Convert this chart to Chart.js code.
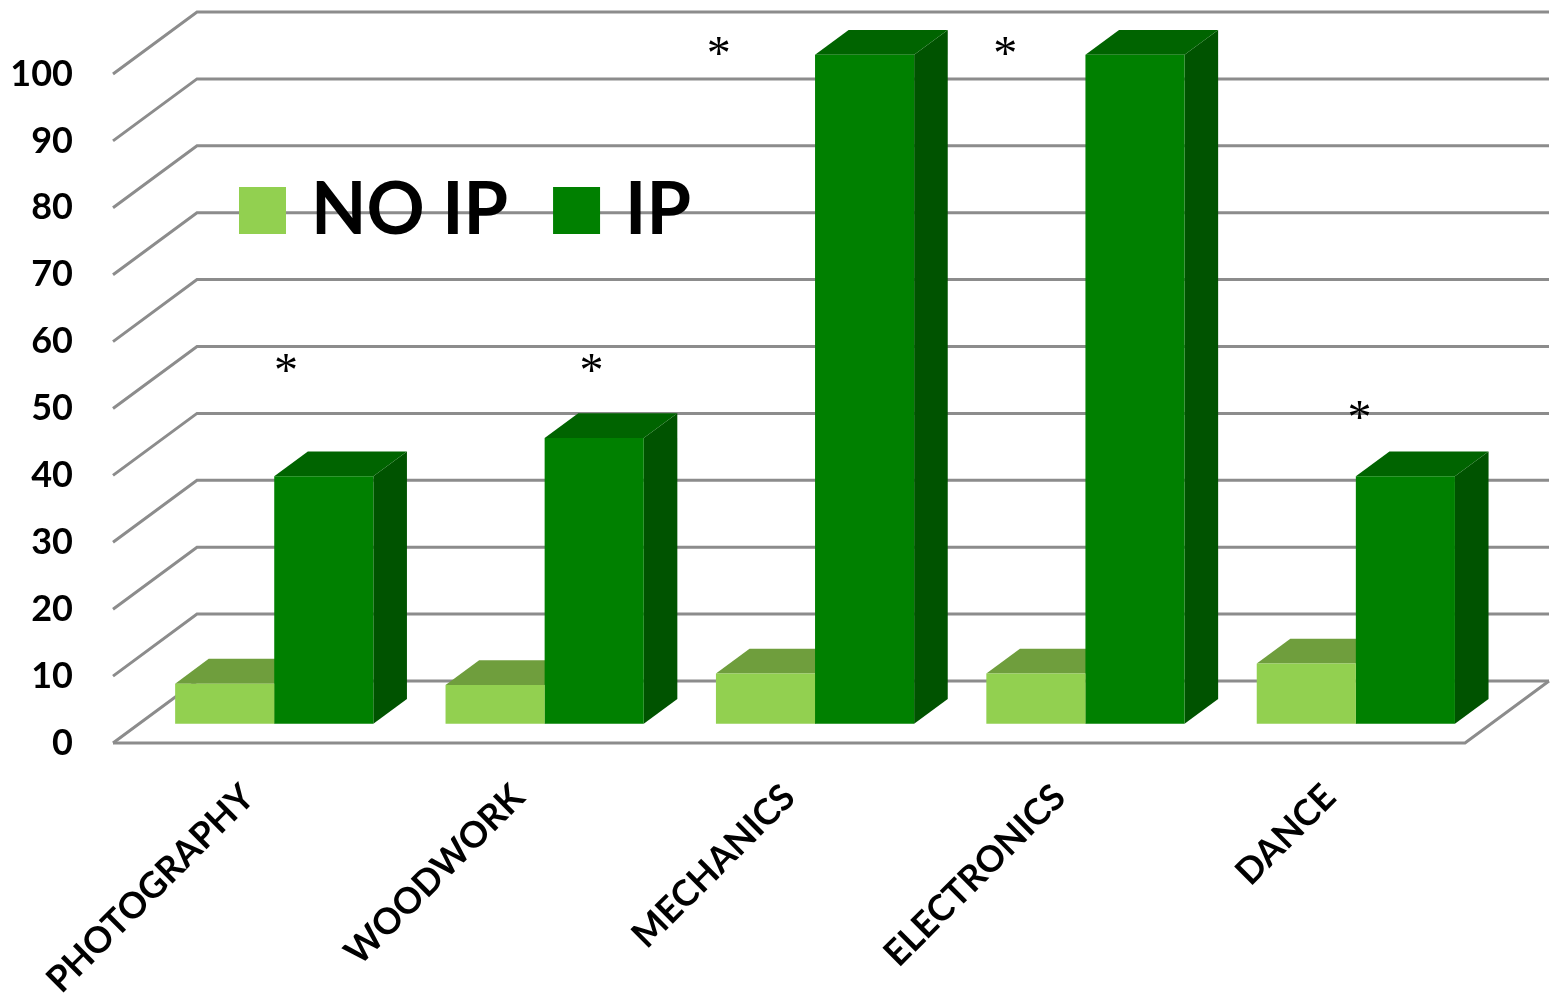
<!DOCTYPE html>
<html>
<head>
<meta charset="utf-8">
<script src="https://cdn.jsdelivr.net/npm/chart.js@4.4.1/dist/chart.umd.min.js"></script>
<style>
body { margin: 0; background: #fff; }
#wrap { width: 1550px; height: 993px; }
</style>
</head>
<body>
<div id="wrap"><canvas id="chart" width="1550" height="993"></canvas></div>
<script>
// values
var categories = ['PHOTOGRAPHY', 'WOODWORK', 'MECHANICS', 'ELECTRONICS', 'DANCE'];
var noIp = [6, 5.8, 7.5, 7.5, 9];
var ip = [37, 42.7, 100, 100, 37];
var yMax = 100;
var yStep = 10;
// significance marks and the level they sit at
var sigMarks = ['*', '*', '*', '*', '*'];
var sigLevel = [57, 57, 104.3, 104.3, 50];

// fake 3d: full depth of the box, and where the bars sit in it
var depth = { x: 84, y: -62 };
var barFront = 0.31, barBack = 0.71;
var sigShift = [0.14, 0.27, -0.26, -0.2, 0.11];   // x offset in category widths

var box3d = {
    id: 'box3d',
    beforeDatasetsDraw: function(chart) {
        var ctx = chart.ctx, a = chart.chartArea, ys = chart.scales.y;
        ctx.save();
        ctx.strokeStyle = '#8c8c8c';
        ctx.lineWidth = 3;
        ys.ticks.forEach(function(t) {
            var y = ys.getPixelForValue(t.value);
            ctx.beginPath();
            ctx.moveTo(a.left, y);
            ctx.lineTo(a.left + depth.x, y + depth.y);
            ctx.lineTo(a.right + depth.x, y + depth.y);
            ctx.stroke();
        });
        // floor
        var y0 = ys.getPixelForValue(0);
        ctx.beginPath();
        ctx.moveTo(a.left, y0);
        ctx.lineTo(a.right, y0);
        ctx.lineTo(a.right + depth.x, y0 + depth.y);
        ctx.stroke();
        ctx.restore();

        // push the bars into the box
        ctx.save();
        ctx.translate(depth.x * barFront, depth.y * barFront);

        // tops and sides first, the library draws the front faces over them
        var dx = depth.x * (barBack - barFront), dy = depth.y * (barBack - barFront);
        chart.data.datasets.forEach(function(ds, i) {
            chart.getDatasetMeta(i).data.forEach(function(bar) {
                var p = bar.getProps(['x', 'y', 'base', 'width'], true);
                var l = p.x - p.width / 2, r = p.x + p.width / 2;
                ctx.fillStyle = ds.sideColor;
                ctx.beginPath();
                ctx.moveTo(r, p.y);
                ctx.lineTo(r + dx, p.y + dy);
                ctx.lineTo(r + dx, p.base + dy);
                ctx.lineTo(r, p.base);
                ctx.closePath();
                ctx.fill();
                ctx.fillStyle = ds.topColor;
                ctx.beginPath();
                ctx.moveTo(l, p.y);
                ctx.lineTo(l + dx, p.y + dy);
                ctx.lineTo(r + dx, p.y + dy);
                ctx.lineTo(r, p.y);
                ctx.closePath();
                ctx.fill();
            });
        });
    },
    afterDatasetsDraw: function(chart) {
        var ctx = chart.ctx, xs = chart.scales.x, ys = chart.scales.y;
        ctx.restore();

        // asterisks
        ctx.save();
        ctx.fillStyle = '#000';
        ctx.font = '48px "Liberation Serif"';
        ctx.textAlign = 'center';
        ctx.textBaseline = 'alphabetic';
        var cw = xs.getPixelForValue(1) - xs.getPixelForValue(0);
        sigMarks.forEach(function(m, i) {
            var x = xs.getPixelForValue(i) + sigShift[i] * cw;
            var y = ys.getPixelForValue(sigLevel[i]) + 24;
            ctx.fillText(m, x, y);
        });
        ctx.restore();

        // legend inside the plot
        ctx.save();
        ctx.font = 'bold 72px Lato';
        ctx.textBaseline = 'alphabetic';
        ctx.textAlign = 'left';
        var x = 239, top = 187, box = 47;
        chart.data.datasets.forEach(function(ds) {
            ctx.fillStyle = ds.backgroundColor;
            ctx.fillRect(x, top, box, box);
            x += box + 25;
            ctx.fillStyle = '#000';
            ctx.fillText(ds.label, x, top + box);
            x += ctx.measureText(ds.label).width + 45;
        });
        ctx.restore();
    }
};

var ctx = document.getElementById('chart').getContext('2d');
var chart = new Chart(ctx, {
    type: 'bar',
    data: {
        labels: categories,
        datasets: [{
            label: 'NO IP',
            data: noIp,
            backgroundColor: '#92d050',
            topColor: '#6f9e3d',
            sideColor: '#5c8a30',
            clip: false
        }, {
            label: 'IP',
            data: ip,
            backgroundColor: '#008000',
            topColor: '#006400',
            sideColor: '#005300',
            clip: false
        }]
    },
    options: {
        responsive: false,
        animation: false,
        layout: { padding: { top: 74, right: 85, left: 0, bottom: 0 } },
        datasets: {
            bar: { categoryPercentage: 0.733, barPercentage: 1.0, borderWidth: 0 }
        },
        plugins: {
            legend: { display: false },
            tooltip: { enabled: false }
        },
        scales: {
            x: {
                grid: { display: false, drawTicks: false },
                border: { display: false },
                ticks: {
                    color: '#000',
                    font: { family: 'Lato', weight: 'bold', size: 36 },
                    minRotation: 45,
                    maxRotation: 45,
                    autoSkip: false,
                    padding: 33
                },
                afterFit: function(s) { s.height = 250; }
            },
            y: {
                min: 0,
                max: yMax,
                grid: { display: false, drawTicks: false },
                border: { display: false },
                ticks: {
                    stepSize: yStep,
                    color: '#000',
                    font: { family: 'Lato', weight: 'bold', size: 36 },
                    padding: 40
                },
                afterFit: function(s) { s.width = 113; }
            }
        }
    },
    plugins: [box3d]
});
</script>
</body>
</html>
